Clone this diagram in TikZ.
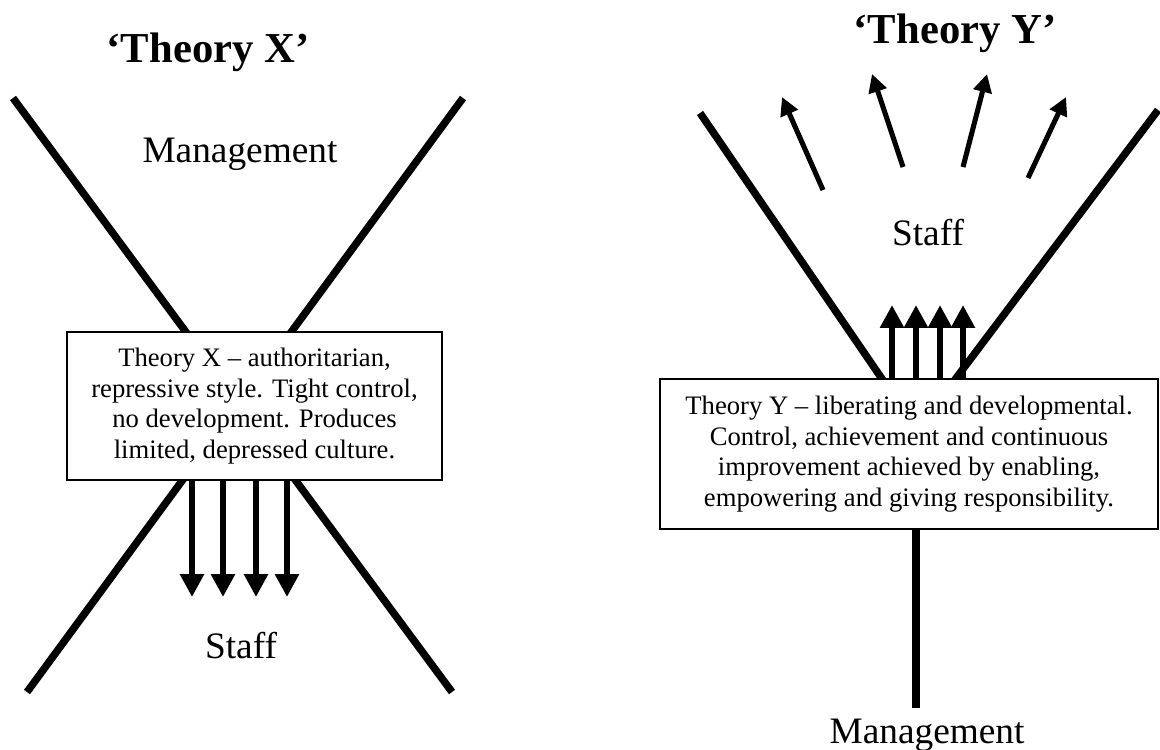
\documentclass[tikz,border=0pt]{standalone}
\usepackage{fontspec}
\setmainfont{Liberation Serif}
\usetikzlibrary{arrows.meta}
\usetikzlibrary{positioning}

\begin{document}
\begin{tikzpicture}[%
x={(0.375pt,0pt)},
y={(0pt,-0.375pt)},
balken/.style={line width=2.8pt},
pfeil/.style={line width=2.2pt,-{Triangle[length=8.6pt,width=8.6pt]}},
strahl/.style={line width=1.9pt,-{Triangle[length=6.8pt,width=6.8pt]}},
kasten/.style={draw,line width=0.75pt,fill=white,align=center,inner sep=0pt,
  font=\fontsize{10}{11.5}\selectfont},
titel/.style={anchor=base,font=\fontsize{16}{18}\selectfont\bfseries},
etikett/.style={anchor=base,font=\fontsize{14}{16}\selectfont},
]
\useasboundingbox (0,0) rectangle (1160,749);

%Theory X
\coordinate (XA) at (13,98);
\coordinate (XB) at (463,98);
\coordinate (XC) at (27,692);
\coordinate (XD) at (452,692);
\draw[balken] (XA) -- (XD);
\draw[balken] (XB) -- (XC);

\node[kasten, minimum width=140.6pt, minimum height=55.5pt] (boxX) at (254.5,406)
{Theory X -- authoritarian,\\ repressive style. Tight control,\\
no development. Produces\\ limited, depressed culture.};

\foreach \x [count=\i] in {192,223,256,287}{
  \coordinate (t\i) at (\x,597);
  \draw[pfeil] (boxX.south -| t\i) -- (t\i);
}

\node[titel] (titleX) at (208,62) {‘Theory X’};
\node[etikett] (mgmtX) at (240,162) {Management};
\node[etikett] (staffX) at (241,658) {Staff};

%Theory Y
\coordinate (YA) at (700,113);
\coordinate (YB) at (1158,110);
\coordinate (YV) at (917,430);
\coordinate (YS) at (916,708);
\draw[balken] (YA) -- (YV) -- (YB);

\node[kasten, minimum width=186.75pt, minimum height=56.25pt] (boxY) at (909,454)
{Theory Y -- liberating and developmental.\\ Control, achievement and continuous\\
improvement achieved by enabling,\\ empowering and giving responsibility.};

\draw[balken] (boxY.south -| YS) -- (YS);

\foreach \x [count=\i] in {892,916,940,963}{
  \coordinate (u\i) at (\x,305);
  \draw[pfeil] (boxY.north -| u\i) -- (u\i);
}

\coordinate (s1) at (823,190);
\coordinate (e1) at (782,97);
\coordinate (s2) at (903,167);
\coordinate (e2) at (872,74);
\coordinate (s3) at (963,167);
\coordinate (e3) at (987,74);
\coordinate (s4) at (1028,178);
\coordinate (e4) at (1066,97);
\foreach \i in {1,...,4}
  \draw[strahl] (s\i) -- (e\i);

\node[titel] (titleY) at (955,43) {‘Theory Y’};
\node[etikett] (staffY) at (928,245) {Staff};
\node[etikett] (mgmtY) at (927,743) {Management};

\end{tikzpicture}
\end{document}
